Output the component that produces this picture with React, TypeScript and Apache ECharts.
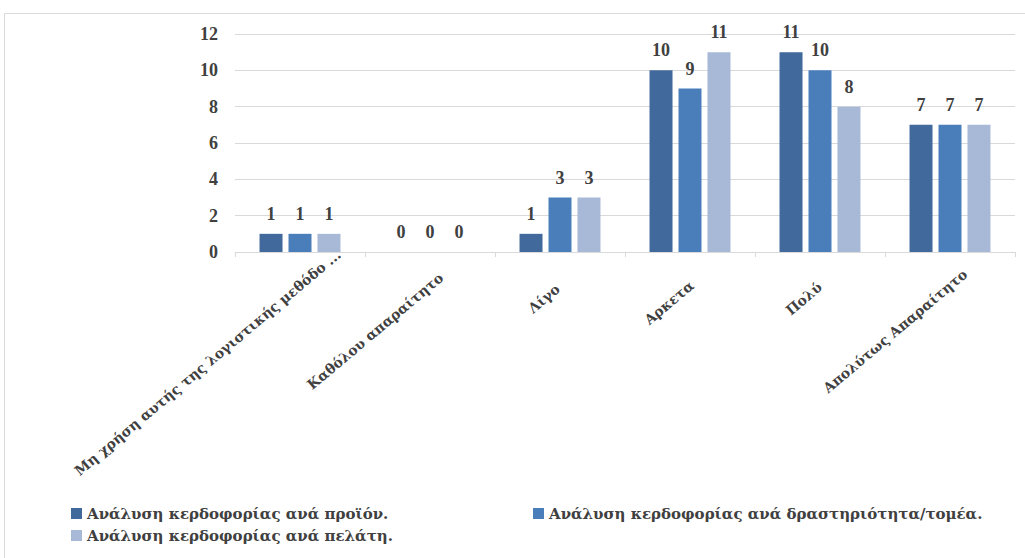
import React, { useEffect, useRef } from "react";
import * as echarts from "echarts";

const categories = [
  "Μη χρήση αυτής της λογιστικής μεθόδο ...",
  "Καθόλου απαραίτητο",
  "Λίγο",
  "Αρκετα",
  "Πολύ",
  "Απολύτως Απαραίτητο",
];
const seriesNames = [
  "Ανάλυση κερδοφορίας ανά προϊόν.",
  "Ανάλυση κερδοφορίας ανά δραστηριότητα/τομέα.",
  "Ανάλυση κερδοφορίας ανά πελάτη.",
];
const byProduct = [1, 0, 1, 10, 11, 7];
const byActivity = [1, 0, 3, 9, 10, 7];
const byCustomer = [1, 0, 3, 11, 8, 7];
const colors = ["#41699B", "#4A7EBB", "#A8B9D8"];

// horizontal nudge (px) of each rotated category label, as Excel places them
const labelShift = [66, 19, -4, 3, 0, 26];
const ROT = 40;

const FONT = "'Liberation Serif', 'Times New Roman', serif";
const WIDE = "'DejaVu Serif', 'Liberation Serif', serif";
const TXT = "#404040";

export default function App() {
  const ref = useRef<HTMLDivElement>(null);
  useEffect(() => {
    const chart = echarts.init(ref.current!, null, { renderer: "svg" });
    const values = [byProduct, byActivity, byCustomer];
    const rad = (ROT * Math.PI) / 180;
    const catData = categories.map((c, i) => {
      const u = labelShift[i] * Math.cos(rad);
      const v = labelShift[i] * Math.sin(rad);
      return { value: c, textStyle: { padding: [Math.max(0, 2 * v), -u, Math.max(0, -2 * v), 0] } };
    });
    const legendText = { fontFamily: WIDE, fontSize: 15, fontWeight: "bold", color: TXT };
    const legendCommon = { itemWidth: 11, itemHeight: 11, icon: "rect", itemGap: 6, textStyle: legendText };
    chart.setOption({
      animation: false,
      color: colors,
      textStyle: { fontFamily: FONT },
      graphic: [
        {
          type: "rect",
          shape: { x: 4.5, y: 13.5, width: 1040, height: 560 },
          style: { fill: "none", stroke: "#d9d9d9", lineWidth: 1 },
          silent: true,
        },
      ],
      grid: { left: 235, right: 10, top: 34, bottom: 306, containLabel: false },
      legend: [
        { ...legendCommon, data: [seriesNames[0]], left: 66, top: 501 },
        { ...legendCommon, data: [seriesNames[1]], left: 528, top: 501 },
        { ...legendCommon, data: [seriesNames[2]], left: 66, top: 523 },
      ],
      xAxis: {
        type: "category",
        data: catData,
        axisLine: { lineStyle: { color: "#d9d9d9" } },
        axisTick: { show: true, length: 5, lineStyle: { color: "#d9d9d9" } },
        axisLabel: {
          rotate: ROT,
          interval: 0,
          margin: 33,
          fontFamily: WIDE,
          fontSize: 14,
          fontWeight: "bold",
          color: TXT,
        },
      },
      yAxis: {
        type: "value",
        min: 0,
        max: 12,
        interval: 2,
        axisLine: { show: false },
        axisTick: { show: false },
        splitLine: { lineStyle: { color: "#d9d9d9" } },
        axisLabel: {
          margin: 17,
          fontFamily: FONT,
          fontSize: 18,
          fontWeight: "bold",
          color: TXT,
        },
      },
      series: seriesNames.map((name, i) => ({
        name,
        type: "bar",
        data: values[i],
        barWidth: 23,
        barGap: "26%",
        itemStyle: { color: colors[i] },
        label: {
          show: true,
          position: "top",
          distance: 11,
          fontFamily: FONT,
          fontSize: 18,
          fontWeight: "bold",
          color: TXT,
        },
      })),
    });
    return () => chart.dispose();
  }, []);
  return (
    <div
      ref={ref}
      style={{ position: "fixed", left: 0, top: 0, width: 1025, height: 558, background: "#fff" }}
    />
  );
}
